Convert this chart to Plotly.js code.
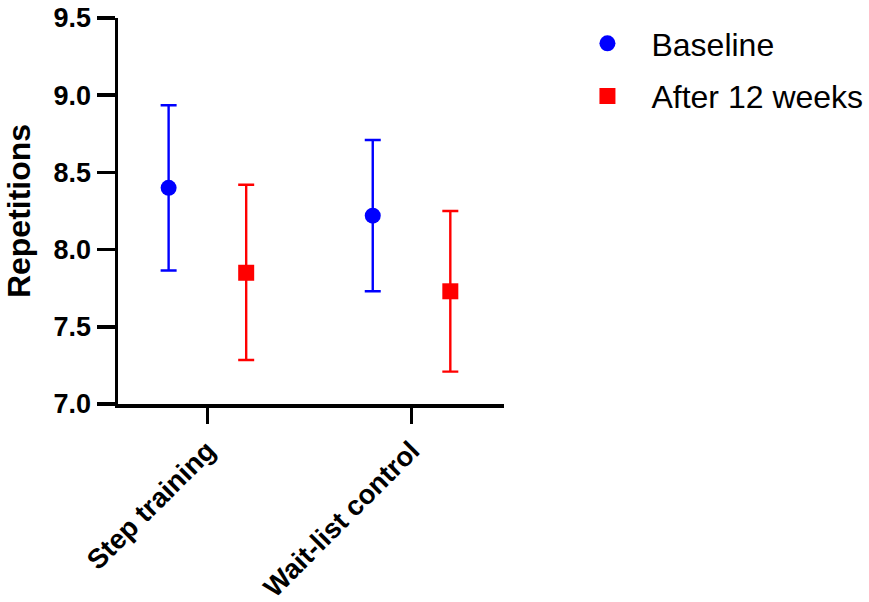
<!DOCTYPE html>
<html>
<head>
<meta charset="utf-8">
<script src="https://cdn.plot.ly/plotly-3.0.1.min.js"></script>
<style>html,body{margin:0;padding:0;background:#fff;}#chart{width:869px;height:602px;}</style>
</head>
<body>
<div id="chart"></div>
<script>
const categories = ["Step training", "Wait-list control"];
const seriesNames = ["Baseline", "After 12 weeks"];
const baselineMean = [8.40, 8.22];
const baselineUpper = [8.935, 8.71];
const baselineLower = [7.865, 7.73];
const afterMean = [7.85, 7.73];
const afterUpper = [8.42, 8.25];
const afterLower = [7.285, 7.21];
const yTicks = [7.0, 7.5, 8.0, 8.5, 9.0, 9.5];

const offset = 0.19;
const idx = categories.map((c, i) => i);
const FONT = "Liberation Sans, Arial, sans-serif";

function mk(name, means, up, lo, color, symbol, dx, group) {
  return {
    type: "scatter", mode: "markers", name: name, legendgroup: group,
    x: idx.map(i => i + dx), y: means,
    marker: {color: color, symbol: symbol, size: 16},
    error_y: {type: "data", symmetric: false,
      array: means.map((m, i) => up[i] - m),
      arrayminus: means.map((m, i) => m - lo[i]),
      color: color, thickness: 2.4, width: 8},
    cliponaxis: false,
    hoverinfo: "skip"
  };
}

const data = [
  mk(seriesNames[0], baselineMean, baselineUpper, baselineLower, "#0000FF", "circle", -offset, "a"),
  mk(seriesNames[1], afterMean, afterUpper, afterLower, "#FF0000", "square", offset, "b")
];

const layout = {
  width: 869, height: 602,
  margin: {l: 118, r: 365, t: 18, b: 198, autoexpand: false},
  paper_bgcolor: "#fff", plot_bgcolor: "#fff",
  font: {family: FONT, color: "#000"},
  showlegend: true,
  legend: {x: 1.154, y: 1.005, xanchor: "left", yanchor: "top",
    font: {size: 32, family: FONT, color: "#000"},
    itemwidth: 78,
    traceorder: "grouped", tracegroupgap: 8, bgcolor: "rgba(0,0,0,0)"},
  xaxis: {
    range: [-0.438, 1.453], tickvals: idx, ticktext: categories,
    tickangle: -45, ticks: "outside", ticklen: 16, tickwidth: 3.5, tickcolor: "#000",
    showline: true, linewidth: 3.5, linecolor: "#000", showgrid: false, zeroline: false,
    tickfont: {size: 27.5, family: FONT, weight: "bold", color: "#000"}
  },
  yaxis: {
    range: [7.0, 9.5], tickvals: yTicks, ticktext: yTicks.map(v => v.toFixed(1)),
    ticks: "outside", ticklen: 18, tickwidth: 3.5, tickcolor: "#000",
    showline: true, linewidth: 3.5, linecolor: "#000", showgrid: false, zeroline: false,
    tickfont: {size: 27, family: FONT, weight: "bold", color: "#000"},
    title: {text: "Repetitions", standoff: 14,
      font: {size: 32, family: FONT, weight: "bold", color: "#000"}}
  }
};

Plotly.newPlot("chart", data, layout, {staticPlot: true, displayModeBar: false});
</script>
</body>
</html>
